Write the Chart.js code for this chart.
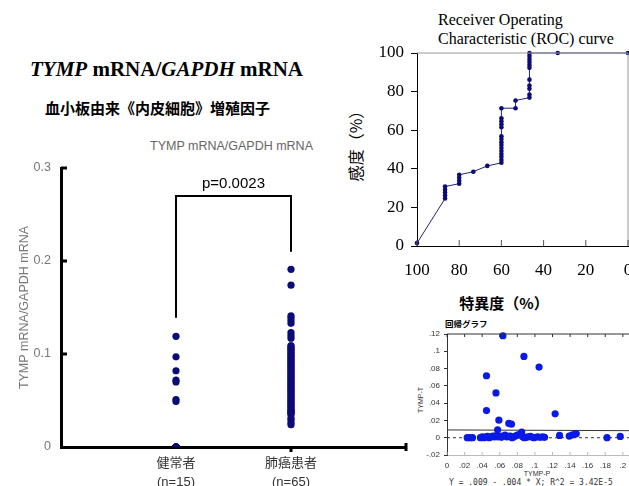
<!DOCTYPE html>
<html>
<head>
<title>TYMP mRNA/GAPDH mRNA</title>
<script src="https://cdn.jsdelivr.net/npm/chart.js@4.4.1/dist/chart.umd.min.js"></script>
<style>
  html, body { margin: 0; padding: 0; overflow: hidden; background: #fff; }
  body { position: relative; width: 629px; height: 486px; }
  .txt { position: absolute; white-space: nowrap; }
  .c { transform: translate(-50%, -50%); }
  .rot { transform: translate(-50%, -50%) rotate(-90deg); }
  canvas { position: absolute; }
</style>
</head>
<body>

<div class="txt" style="left:30px;top:59px;font:bold 21px/21px 'Liberation Serif';"><i>TYMP</i> mRNA/<i>GAPDH</i> mRNA</div>
<div class="txt" style="left:45px;top:100px;font:bold 15px/15px 'Noto Sans CJK JP';">血小板由来《内皮細胞》増殖因子</div>
<div class="txt" style="left:150px;top:140px;font:12.5px/13px 'Liberation Sans';color:#666;">TYMP mRNA/GAPDH mRNA</div>

<div class="txt" style="left:438px;top:10px;font:16px/19px 'Liberation Serif';">Receiver Operating<br>Characteristic (ROC) curve</div>
<div class="txt rot" style="left:355px;top:142px;font:16px/16px 'Noto Sans CJK JP';">感度（%）</div>
<div class="txt c" style="left:504px;top:302px;font:bold 15px/15px 'Noto Sans CJK JP';">特異度（%）</div>

<div class="txt" style="left:445px;top:319px;font:bold 8.5px/9px 'Noto Sans CJK JP';">回帰グラフ</div>
<div class="txt rot" style="left:420px;top:400px;font:7px/7px 'Liberation Sans';color:#333;">TYMP-T</div>
<div class="txt c" style="left:537px;top:473px;font:7px/7px 'Liberation Sans';color:#333;">TYMP-P</div>
<div class="txt" style="left:449px;top:479px;font:8px/8px 'DejaVu Sans Mono';color:#333;" id="eq"></div>

<canvas id="dotChart" width="420" height="336" style="left:0;top:150px"></canvas>
<canvas id="rocChart" width="310" height="320" style="left:340px;top:0"></canvas>
<canvas id="regChart" width="252" height="176" style="left:400px;top:310px"></canvas>

<script>
// dot plot: TYMP mRNA/GAPDH mRNA per group
var categories = [['健常者', '(n=15)'], ['肺癌患者', '(n=65)']];
var healthyValues = [0.119, 0.097, 0.082, 0.072, 0.070, 0.051, 0.049, 0, 0, 0, 0, 0, 0, 0, 0];
var cancerValues = [0.191, 0.174, 0.141, 0.139, 0.136, 0.133, 0.123, 0.120, 0.117,
  0.109, 0.108, 0.106, 0.105, 0.103, 0.102, 0.100, 0.099, 0.097, 0.096,
  0.094, 0.093, 0.091, 0.090, 0.088, 0.087, 0.085, 0.084, 0.082, 0.081,
  0.079, 0.078, 0.076, 0.075, 0.073, 0.072, 0.070, 0.069, 0.067, 0.066,
  0.064, 0.063, 0.061, 0.060, 0.058, 0.057, 0.055, 0.054, 0.052, 0.051,
  0.049, 0.048, 0.046, 0.045, 0.043, 0.042, 0.040, 0.039, 0.038, 0.037,
  0.036, 0.035, 0.031, 0.029, 0.026, 0.024];
var bracketX = [1, 1, 2, 2];
var bracketY = [0.139, 0.270, 0.270, 0.210];
var pLabel = 'p=0.0023';

// ROC curve
var rocSpecificity = [100, 86.7, 86.7, 86.7, 86.7, 86.7, 80, 80, 80, 80, 73.3, 66.7,
  60, 60, 60, 60, 60, 60, 60, 60, 60, 60, 60, 60, 60, 60, 60,
  53.3, 53.3, 46.7, 46.7, 46.7, 46.7, 46.7, 46.7, 46.7, 46.7, 46.7, 46.7, 46.7, 33.3, 0];
var rocSensitivity = [1.5, 24.6, 26.2, 27.7, 29.2, 30.8, 32.3, 33.8, 35.4, 36.9, 38.5, 41.5,
  43.1, 44.6, 46.2, 47.7, 49.2, 50.8, 52.3, 53.8, 55.4, 56.9, 61.5, 63.1, 64.6, 66.2, 71.4,
  71.4, 75.4, 76.9, 78.5, 81.5, 83.1, 86.2, 92.3, 93.8, 95.4, 96.9, 98.5, 100, 100, 100];

// regression graph TYMP-P vs TYMP-T
var regX = [0.0636, 0.0875, 0.1047, 0.0449, 0.0557, 0.0449, 0.123, 0.059, 0.0703, 0.0733,
  0.0576, 0.085, 0.128, 0.139, 0.142, 0.145, 0.147, 0.182, 0.197,
  0.023, 0.026, 0.029, 0.038, 0.040, 0.042, 0.044, 0.046, 0.048, 0.050,
  0.052, 0.054, 0.056, 0.058, 0.060, 0.062, 0.064, 0.066, 0.068, 0.070,
  0.072, 0.074, 0.076, 0.078, 0.080, 0.082, 0.084, 0.086, 0.088, 0.090,
  0.092, 0.095, 0.097, 0.099, 0.103, 0.106, 0.109, 0.111];
var regY = [0.118, 0.094, 0.0817, 0.0717, 0.0518, 0.0314, 0.0276, 0.0203, 0.0165, 0.0157,
  0.0092, 0.0065, 0.0027, 0.0019, 0.003, 0.004, 0.0045, 0.0, 0.0015,
  0, 0, 0, 0, 0.001, 0, 0.001, 0.0015, 0, 0.001,
  0.002, 0.001, 0.0025, 0.001, 0.002, 0.0005, 0.002, 0.003, 0.001, 0.0015,
  0.002, 0, 0.001, 0.002, 0.003, 0.0035, 0.004, 0.001, 0, 0.0005,
  0.001, 0.0015, 0.0005, 0, 0.001, 0.0005, 0.001, 0.0005];
var regLineX = [0, 0.22];
var regLineY = [0.009, 0.0081];
var zeroLineX = [0, 0.22];
var zeroLineY = [0, 0];
var regEquation = 'Y = .009 - .004 * X; R^2 = 3.42E-5';

document.getElementById('eq').textContent = regEquation;

var navy = '#0c0c78';
var sans = "'Liberation Sans', 'Noto Sans CJK JP'";

function pts(xs, ys) {
  return xs.map(function (x, i) { return { x: x, y: ys[i] }; });
}

function line(ctx, x1, y1, x2, y2) {
  ctx.beginPath();
  ctx.moveTo(x1, y1);
  ctx.lineTo(x2, y2);
  ctx.stroke();
}

// short inward ticks, x tick under the second group, p value
var dotMarks = {
  id: 'dotMarks',
  afterDraw: function (chart) {
    var ctx = chart.ctx, xs = chart.scales.x, ys = chart.scales.y;
    ctx.save();
    ctx.strokeStyle = '#000';
    ctx.lineWidth = 3;
    ys.ticks.forEach(function (t) {
      if (t.value > 0) {
        var py = ys.getPixelForValue(t.value);
        line(ctx, xs.left, py, xs.left + 6, py);
      }
    });
    var px = xs.getPixelForValue(2);
    line(ctx, px, ys.bottom, px, ys.bottom + 5);
    line(ctx, xs.right, ys.bottom - 4, xs.right, ys.bottom + 4);
    ctx.fillStyle = '#000';
    ctx.font = "15px 'Liberation Sans'";
    ctx.textAlign = 'center';
    ctx.textBaseline = 'middle';
    ctx.fillText(pLabel, xs.getPixelForValue(1.5), ys.getPixelForValue(0.2825));
    ctx.restore();
  }
};

new Chart(document.getElementById('dotChart'), {
  type: 'scatter',
  data: {
    datasets: [
      { data: healthyValues.map(function (v) { return { x: 1, y: v }; }),
        backgroundColor: navy, borderWidth: 0, pointRadius: 3.6 },
      { data: cancerValues.map(function (v) { return { x: 2, y: v }; }),
        backgroundColor: navy, borderWidth: 0, pointRadius: 3.6 },
      { data: pts(bracketX, bracketY), showLine: true, pointRadius: 0,
        borderColor: '#000', borderWidth: 2 }
    ]
  },
  options: {
    responsive: false,
    animation: false,
    layout: { padding: { top: 18, right: 14, left: 0, bottom: 0 }, autoPadding: false },
    plugins: { legend: { display: false }, tooltip: { enabled: false } },
    scales: {
      x: {
        type: 'linear', min: 0, max: 3,
        afterBuildTicks: function (s) { s.ticks = [{ value: 1 }, { value: 2 }]; },
        ticks: {
          callback: function (v, i) { return categories[i]; },
          color: '#333', padding: 7, maxRotation: 0, autoSkip: false,
          font: { family: sans, size: 13, lineHeight: 1.45 }
        },
        grid: { display: false, drawTicks: false },
        border: { color: '#000', width: 3 },
        afterFit: function (s) { s.height = 39; }
      },
      y: {
        min: 0, max: 0.3,
        ticks: {
          stepSize: 0.1,
          callback: function (v) { return v === 0 ? '0' : v.toFixed(1); },
          color: '#777', padding: 10,
          font: { family: sans, size: 12.5 }
        },
        grid: { display: false, drawTicks: false },
        border: { color: '#000', width: 3 },
        title: {
          display: true, text: 'TYMP mRNA/GAPDH mRNA', color: '#777',
          font: { family: sans, size: 12.5 }, padding: { top: 17, bottom: 0 }
        },
        afterFit: function (s) { s.width = 61; }
      }
    }
  },
  plugins: [dotMarks]
});

// gray frame on top and right, inward x ticks
var rocFrame = {
  id: 'rocFrame',
  afterDraw: function (chart) {
    var ctx = chart.ctx, xs = chart.scales.x, ys = chart.scales.y;
    ctx.save();
    ctx.lineWidth = 1;
    ctx.strokeStyle = '#999';
    line(ctx, xs.left, ys.top, xs.right, ys.top);
    line(ctx, xs.right, ys.top, xs.right, ys.bottom);
    ctx.strokeStyle = '#555';
    xs.ticks.forEach(function (t) {
      var px = xs.getPixelForValue(t.value);
      line(ctx, px, ys.bottom, px, ys.bottom - 6);
    });
    ctx.restore();
  }
};

var serifTicks = { family: 'Liberation Serif', size: 17 };

new Chart(document.getElementById('rocChart'), {
  type: 'scatter',
  data: {
    datasets: [{
      data: pts(rocSpecificity, rocSensitivity),
      showLine: true,
      borderColor: '#22227a', borderWidth: 1,
      pointRadius: 2.3, pointBorderWidth: 0, pointBackgroundColor: navy,
      clip: false
    }]
  },
  options: {
    responsive: false,
    animation: false,
    layout: { padding: { top: 53, right: 22, left: 0, bottom: 0 }, autoPadding: false },
    plugins: { legend: { display: false }, tooltip: { enabled: false } },
    scales: {
      x: {
        type: 'linear', reverse: true, min: 0, max: 100,
        ticks: { stepSize: 20, color: '#000', padding: 14, maxRotation: 0, font: serifTicks },
        grid: { display: false, drawTicks: false },
        border: { color: '#000', width: 1 },
        afterFit: function (s) { s.height = 74; }
      },
      y: {
        min: 0, max: 100,
        ticks: { stepSize: 20, color: '#000', padding: 7, font: serifTicks },
        grid: { drawOnChartArea: false, drawTicks: true, tickLength: 6, color: '#000' },
        border: { color: '#000', width: 1 },
        afterFit: function (s) { s.width = 77; }
      }
    }
  },
  plugins: [rocFrame]
});

function shortNum(v) {
  if (Math.abs(v) < 1e-9) return '0';
  return String(+v.toFixed(2)).replace('0.', '.');
}

var regFrame = {
  id: 'regFrame',
  afterDraw: function (chart) {
    var ctx = chart.ctx, xs = chart.scales.x, ys = chart.scales.y;
    ctx.save();
    ctx.lineWidth = 1;
    ctx.strokeStyle = '#333';
    line(ctx, xs.left, ys.top, xs.right, ys.top);
    xs.ticks.forEach(function (t) {
      var px = xs.getPixelForValue(t.value);
      line(ctx, px, ys.top, px, ys.top + 3);
    });
    ctx.strokeStyle = '#bbb';
    xs.ticks.forEach(function (t) {
      var px = xs.getPixelForValue(t.value);
      line(ctx, px, ys.bottom, px, ys.bottom - 3);
    });
    ctx.restore();
  }
};

var tinyFont = { family: 'Liberation Sans', size: 8 };

new Chart(document.getElementById('regChart'), {
  type: 'scatter',
  data: {
    datasets: [
      { data: pts(regX, regY), backgroundColor: '#0a1ae6', borderWidth: 0,
        pointRadius: 3.6, clip: false },
      { data: pts(regLineX, regLineY), showLine: true, pointRadius: 0,
        borderColor: '#333', borderWidth: 1 },
      { data: pts(zeroLineX, zeroLineY), showLine: true, pointRadius: 0,
        borderColor: '#333', borderWidth: 1, borderDash: [3, 3] }
    ]
  },
  options: {
    responsive: false,
    animation: false,
    layout: { padding: { top: 24, right: 4, left: 0, bottom: 0 }, autoPadding: false },
    plugins: { legend: { display: false }, tooltip: { enabled: false } },
    scales: {
      x: {
        type: 'linear', min: 0, max: 0.22,
        ticks: { stepSize: 0.02, callback: shortNum, color: '#333', padding: 6,
                 autoSkip: false, maxRotation: 0, font: tinyFont },
        grid: { display: false, drawTicks: false },
        border: { color: '#bbb', width: 1, dash: [1, 2] },
        afterFit: function (s) { s.height = 31; }
      },
      y: {
        min: -0.02, max: 0.12,
        ticks: { stepSize: 0.02, callback: shortNum, color: '#333', padding: 4, font: tinyFont },
        grid: { drawOnChartArea: false, drawTicks: true, tickLength: 3, color: '#333' },
        border: { color: '#333', width: 1 },
        afterFit: function (s) { s.width = 47; }
      }
    }
  },
  plugins: [regFrame]
});
</script>
</body>
</html>
